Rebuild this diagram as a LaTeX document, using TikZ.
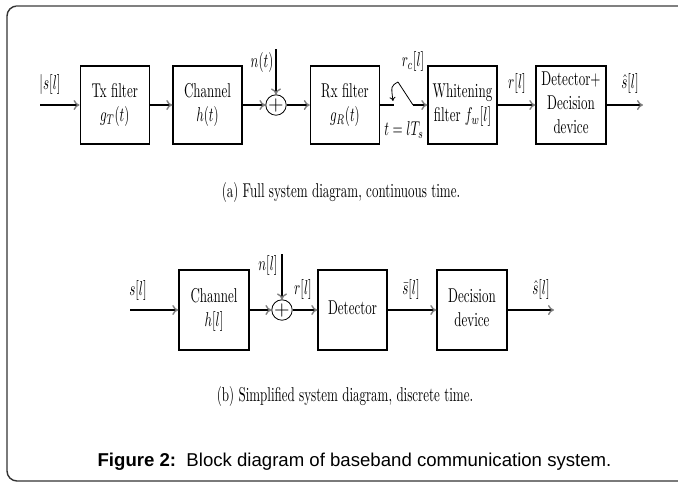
\documentclass[tikz,border=0pt]{standalone}
\usepackage{fontspec}
\usepackage{graphicx}
\usetikzlibrary{arrows.meta}
\newfontfamily\capfont{Liberation Sans}
\newcommand{\sq}[1]{\scalebox{0.65}[1]{\begin{tabular}{@{}c@{}}#1\end{tabular}}}

\begin{document}
\begin{tikzpicture}[x=0.5pt, y=-0.5pt, line width=0.7pt,
  >={To[length=3pt,width=5pt,color=gray]},
  block/.style={draw, minimum width=34.5pt, minimum height=39pt, inner sep=0pt},
  adder/.style={draw, circle, minimum size=9.5pt, inner sep=0pt, line width=0.4pt},
  lbl/.style={inner sep=0pt}]
  \useasboundingbox (0,0) rectangle (678,483);
  % frame
  \draw[black!80, rounded corners=5pt] (678,481) -- (7,481) -- (7,6) -- (678,6);
  \draw[gray, line width=1pt] (16,6) -- (678,6);
  % full system
  \node[block] (tx) at (114.75,105) {\sq{Tx filter\\$g_T(t)$}};
  \node[block] (ch) at (207.5,105) {\sq{Channel\\$h(t)$}};
  \node[adder] (sum) at (276,105) {$+$};
  \node[block] (rx) at (345,105) {\sq{Rx filter\\$g_R(t)$}};
  \node[block] (wf) at (462.5,105) {\sq{Whitening\\filter $f_w[l]$}};
  \node[block, minimum width=35pt] (dd) at (571,105) {\sq{Detector+\\Decision\\device}};
  \coordinate (in) at (40,105);
  \coordinate (out) at (643,105);
  \coordinate (ntop) at (276,49);
  \coordinate (sa) at (394,105);
  \coordinate (sp) at (398,82);
  \coordinate (sb) at (413,105);
  \draw[->] (in) -- (tx);
  \draw[->] (tx) -- (ch);
  \draw[->] (ch) -- (sum);
  \draw[->] (ntop) -- (sum);
  \draw[->] (sum) -- (rx);
  \draw (rx) -- (sa);
  \draw[line width=0.4pt] (sp) -- (sb);
  \draw[line width=0.4pt, -{To[length=2pt,width=3pt]}] (sp) .. controls (391,86) .. (393,101);
  \draw[->] (sb) -- (wf);
  \draw[->] (wf) -- (dd);
  \draw[->] (dd) -- (out);
  \node[lbl] (sl) at (50,85) {\sq{$|s[l]$}};
  \node[lbl] (nt) at (262,63) {\sq{$n(t)$}};
  \node[lbl] (rc) at (413,62) {\sq{$r_c[l]$}};
  \node[lbl] (ts) at (404,131) {\sq{$t=lT_s$}};
  \node[lbl] (rl) at (517,84) {\sq{$r[l]$}};
  \node[lbl] (sh) at (630,84) {\sq{$\hat{s}[l]$}};
  \node[lbl] (capa) at (341,193) {\sq{(a) Full system diagram, continuous time.}};
  % simplified system
  \node[block, minimum width=35pt, minimum height=40pt] (chb) at (214,310) {\sq{Channel\\$h[l]$}};
  \node[adder] (sumb) at (282,310) {$+$};
  \node[block, minimum height=40pt] (dt) at (352.5,310) {\sq{Detector}};
  \node[block, minimum width=35pt, minimum height=40pt] (dv) at (472,310) {\sq{Decision\\device}};
  \coordinate (inb) at (130,310);
  \coordinate (outb) at (554,310);
  \coordinate (nbtop) at (282,254);
  \draw[->] (inb) -- (chb);
  \draw[->] (chb) -- (sumb);
  \draw[->] (nbtop) -- (sumb);
  \draw[->] (sumb) -- (dt);
  \draw[->] (dt) -- (dv);
  \draw[->] (dv) -- (outb);
  \node[lbl] (slb) at (138,291) {\sq{$s[l]$}};
  \node[lbl] (nl) at (268,266) {\sq{$n[l]$}};
  \node[lbl] (rlb) at (303,290) {\sq{$r[l]$}};
  \node[lbl] (sbar) at (411,290) {\sq{$\bar{s}[l]$}};
  \node[lbl] (shb) at (541,290) {\sq{$\hat{s}[l]$}};
  \node[lbl] (capb) at (345,397) {\sq{(b) Simplified system diagram, discrete time.}};
  % caption
  \node[lbl, font=\capfont\fontsize{9.3pt}{11pt}\selectfont] (fig) at (354.5,462) {\textbf{Figure 2:}\ \ Block diagram of baseband communication system.};
\end{tikzpicture}
\end{document}
